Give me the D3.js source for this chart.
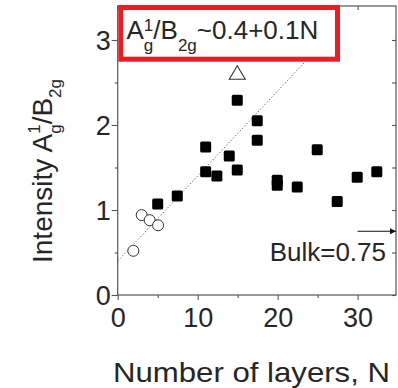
<!DOCTYPE html>
<html><head><meta charset="utf-8">
<script src="https://cdn.jsdelivr.net/npm/d3@7"></script>
<style>html,body{margin:0;padding:0;background:#fff;}svg{display:block;}</style>
</head><body>
<svg id="c" width="398" height="388"></svg>
<script>
// ---- data ----
const squaresN = [5, 7.45, 11, 11, 12.4, 13.95, 14.95, 14.95, 17.45, 17.45, 19.95, 19.95, 22.45, 24.95, 27.45, 29.95, 32.4];
const squaresI = [1.07, 1.165, 1.74, 1.45, 1.40, 1.635, 1.47, 2.29, 2.05, 1.82, 1.35, 1.29, 1.27, 1.71, 1.10, 1.385, 1.45];
const circlesN = [1.95, 3.0, 4.0, 5.05];
const circlesI = [0.52, 0.94, 0.88, 0.82];
const triangleN = [14.95];
const triangleI = [2.615];
const fitIntercept = 0.4, fitSlope = 0.1, fitRange = [0, 25];
const bulkValue = 0.75, bulkArrowFrom = 30;
const xTicks = [0, 10, 20, 30];
const yTicks = [0, 1, 2, 3];
const xMinor = [5, 15, 25];
const yMinor = [0.5, 1.5, 2.5];

const font = "'Liberation Sans', Arial, Helvetica, sans-serif";
const textColor = "#262626", axisColor = "#555";

const svg = d3.select("#c");
const x = d3.scaleLinear().domain([0, 34.8]).range([117.7, 396]);
const y = d3.scaleLinear().domain([0, 3.4]).range([295, 6]);

// frame
svg.append("rect").attr("x", x(0)).attr("y", y(3.4)).attr("width", x(34.8) - x(0)).attr("height", y(0) - y(3.4))
  .attr("fill", "none").attr("stroke", axisColor).attr("stroke-width", 1.2);

// axes
const gBottom = svg.append("g").attr("transform", `translate(0,${y(0)})`)
  .call(d3.axisBottom(x).tickValues(xTicks).tickSize(5).tickFormat(d3.format("d")));
const gLeft = svg.append("g").attr("transform", `translate(${x(0)},0)`)
  .call(d3.axisLeft(y).tickValues(yTicks).tickSize(6).tickFormat(d3.format("d")));
const gBMinor = svg.append("g").attr("transform", `translate(0,${y(0)})`)
  .call(d3.axisBottom(x).tickValues(xMinor).tickSize(3).tickFormat(""));
const gLMinor = svg.append("g").attr("transform", `translate(${x(0)},0)`)
  .call(d3.axisLeft(y).tickValues(yMinor).tickSize(3).tickFormat(""));
const gRight = svg.append("g").attr("transform", `translate(${x(34.8)},0)`)
  .call(d3.axisLeft(y).tickValues(yTicks.concat(yMinor)).tickSize(4).tickFormat(""));
const gTop = svg.append("g").attr("transform", `translate(0,${y(3.4)})`)
  .call(d3.axisBottom(x).tickValues(xTicks.concat(xMinor)).tickSize(4).tickFormat(""));
[gBottom, gLeft, gBMinor, gLMinor, gRight, gTop].forEach(g => {
  g.select(".domain").remove();
  g.selectAll(".tick line").attr("stroke", axisColor).attr("stroke-width", 1.1);
  g.selectAll(".tick text").attr("fill", textColor).style("font-family", font).style("font-size", "27px");
});
gBottom.selectAll(".tick text").attr("y", 0).attr("dy", 0).attr("transform", "translate(0,32)");
gLeft.selectAll(".tick text").attr("x", -7).attr("dy", "0.36em");

// fit line (its upper end is hidden under the formula box)
svg.append("line")
  .attr("x1", x(fitRange[0])).attr("y1", y(fitIntercept + fitSlope * fitRange[0]))
  .attr("x2", x(fitRange[1])).attr("y2", y(fitIntercept + fitSlope * fitRange[1]))
  .attr("stroke", "#666").attr("stroke-width", 1).attr("stroke-dasharray", "1.3,2");

// squares
const sq = 11;
svg.append("g").selectAll("rect").data(squaresN.map((n, i) => [n, squaresI[i]])).join("rect")
  .attr("x", d => x(d[0]) - sq / 2).attr("y", d => y(d[1]) - sq / 2)
  .attr("width", sq).attr("height", sq).attr("rx", 1.5).attr("fill", "#000");

// circles
svg.append("g").selectAll("circle").data(circlesN.map((n, i) => [n, circlesI[i]])).join("circle")
  .attr("cx", d => x(d[0])).attr("cy", d => y(d[1])).attr("r", 5.5)
  .attr("fill", "#fff").attr("stroke", "#333").attr("stroke-width", 1);

// triangle
svg.append("g").selectAll("path").data(triangleN.map((n, i) => [n, triangleI[i]])).join("path")
  .attr("d", d => { const cx = x(d[0]), cy = y(d[1]); return `M${cx},${cy - 7}L${cx + 8},${cy + 6.5}L${cx - 8},${cy + 6.5}Z`; })
  .attr("fill", "#fff").attr("stroke", "#333").attr("stroke-width", 1.1);

// bulk arrow
svg.append("defs").append("marker").attr("id", "ah").attr("viewBox", "0 0 10 10")
  .attr("refX", 10).attr("refY", 5).attr("markerWidth", 10).attr("markerHeight", 6)
  .attr("markerUnits", "userSpaceOnUse").attr("orient", "auto")
  .append("path").attr("d", "M0,0L10,5L0,10Z").attr("fill", "#111");
svg.append("line").attr("x1", x(bulkArrowFrom)).attr("x2", x(34.8)).attr("y1", y(bulkValue)).attr("y2", y(bulkValue))
  .attr("stroke", "#111").attr("stroke-width", 1.1).attr("marker-end", "url(#ah)");
svg.append("text").attr("x", 386).attr("y", 261).attr("text-anchor", "end")
  .attr("fill", textColor).style("font-family", font).style("font-size", "26px").text("Bulk=" + bulkValue);

// rich text helper
function rich(g, parts) {
  let cx = 0, prevX = 0;
  parts.forEach(p => {
    const startX = p.stack ? prevX : cx;
    const t = g.append("text").attr("x", startX).attr("y", p.dy || 0)
      .attr("fill", textColor).style("font-family", font).style("font-size", p.size + "px").text(p.t);
    const w = t.node().getComputedTextLength();
    if (p.stack) { cx = Math.max(cx, startX + w); }
    else { prevX = startX; cx = startX + w; }
  });
  return cx;
}

// y axis title
const yt = svg.append("g").attr("transform", "translate(51.5,263) rotate(-90)");
rich(yt, [
  { t: "Intensity A", size: 28 },
  { t: "1", size: 17, dy: -12 },
  { t: "g", size: 17, dy: 9, stack: true },
  { t: "/B", size: 28 },
  { t: "2g", size: 17, dy: 9 }
]);

// x axis title
svg.append("text").attr("x", 251.5).attr("y", 381.5).attr("text-anchor", "middle")
  .attr("textLength", 277).attr("lengthAdjust", "spacingAndGlyphs")
  .attr("fill", textColor).style("font-family", font).style("font-size", "28px").text("Number of layers, N");

// red box with fit formula
svg.append("rect").attr("x", 120.8).attr("y", 7.5).attr("width", 216.7).attr("height", 51.7)
  .attr("fill", "#fff").attr("stroke", "#ec1c24").attr("stroke-width", 5);
const bt = svg.append("g").attr("transform", "translate(126.5,39)");
rich(bt, [
  { t: "A", size: 26 },
  { t: "1", size: 17, dy: -8 },
  { t: "g", size: 17, dy: 11.5, stack: true },
  { t: "/B", size: 26 },
  { t: "2g", size: 17, dy: 11.5 },
  { t: "~" + fitIntercept + "+" + fitSlope + "N", size: 26 }
]);
</script>
</body></html>
